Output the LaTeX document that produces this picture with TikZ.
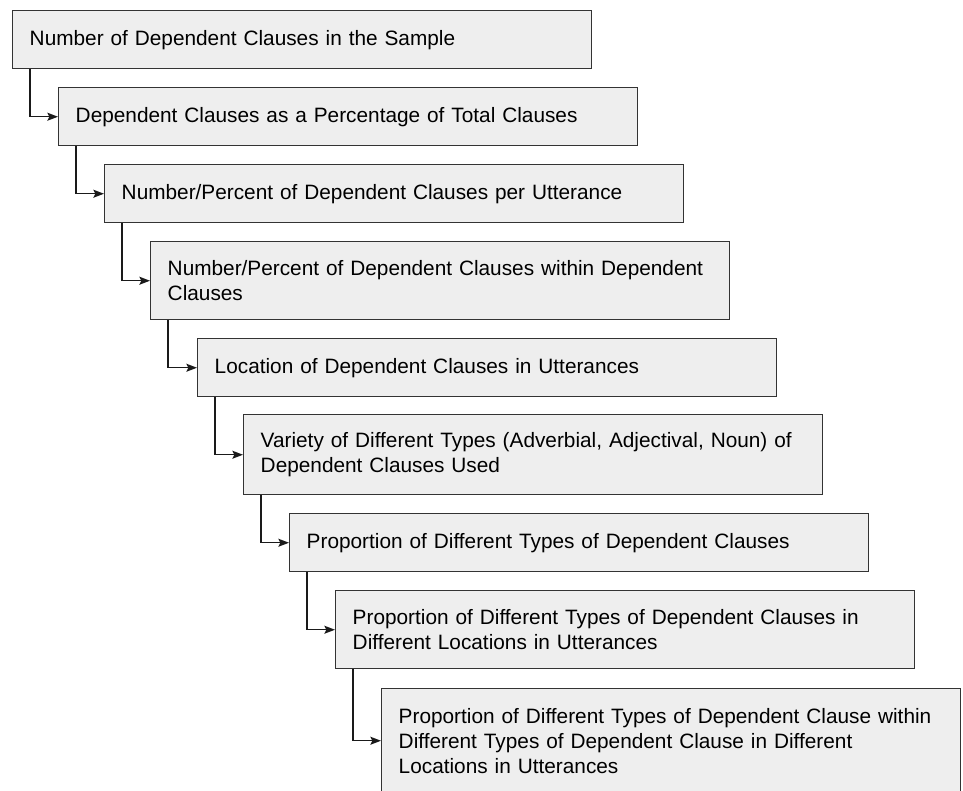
\documentclass[tikz,border=0pt]{standalone}
\usepackage{fontspec}
\setmainfont{Liberation Sans}
\usetikzlibrary{arrows.meta}
\definecolor{boxfill}{HTML}{EEEEEE}
\definecolor{boxline}{HTML}{333333}
\definecolor{conncol}{HTML}{1A1A1A}
\begin{document}
\begin{tikzpicture}[x=0.75pt,y=-0.75pt,
  stepbox/.style={draw=boxline, fill=boxfill, line width=1.1pt, anchor=north west,
    text width=408.75pt, inner xsep=12.75pt, inner ysep=0pt, align=left,
    font=\fontsize{15.6}{18.75}\selectfont, text=black},
  conn/.style={draw=conncol, line width=1pt, -{Stealth[length=8pt,width=6pt,inset=1.5pt]}}]
\useasboundingbox (0,0) rectangle (963,791);
\begin{scope}
\clip (0,0) rectangle (963,791);
\node[stepbox, minimum height=43.5pt] (b1) at (12,10) {Number of Dependent Clauses in the Sample};
\node[stepbox, minimum height=43.5pt] (b2) at (58,87) {Dependent Clauses as a Percentage of Total Clauses};
\node[stepbox, minimum height=43.5pt] (b3) at (104,164) {Number/Percent of Dependent Clauses per Utterance};
\node[stepbox, minimum height=58.5pt] (b4) at (150,241) {Number/Percent of Dependent Clauses within Dependent\\Clauses};
\node[stepbox, minimum height=43.5pt] (b5) at (197,338) {Location of Dependent Clauses in Utterances};
\node[stepbox, minimum height=60pt] (b6) at (243,414) {Variety of Different Types (Adverbial, Adjectival, Noun) of\\Dependent Clauses Used};
\node[stepbox, minimum height=43.5pt] (b7) at (289,513) {Proportion of Different Types of Dependent Clauses};
\node[stepbox, minimum height=58.5pt] (b8) at (335,590) {Proportion of Different Types of Dependent Clauses in\\Different Locations in Utterances};
\node[stepbox, minimum height=78pt] (b9) at (381,688) {Proportion of Different Types of Dependent Clause within\\Different Types of Dependent Clause in Different\\Locations in Utterances};
\foreach \a/\b in {b1/b2,b2/b3,b3/b4,b4/b5,b5/b6,b6/b7,b7/b8,b8/b9}
  \draw[conn] ([xshift=13.5pt]\a.south west) |- (\b.west);
\end{scope}
\end{tikzpicture}
\end{document}
